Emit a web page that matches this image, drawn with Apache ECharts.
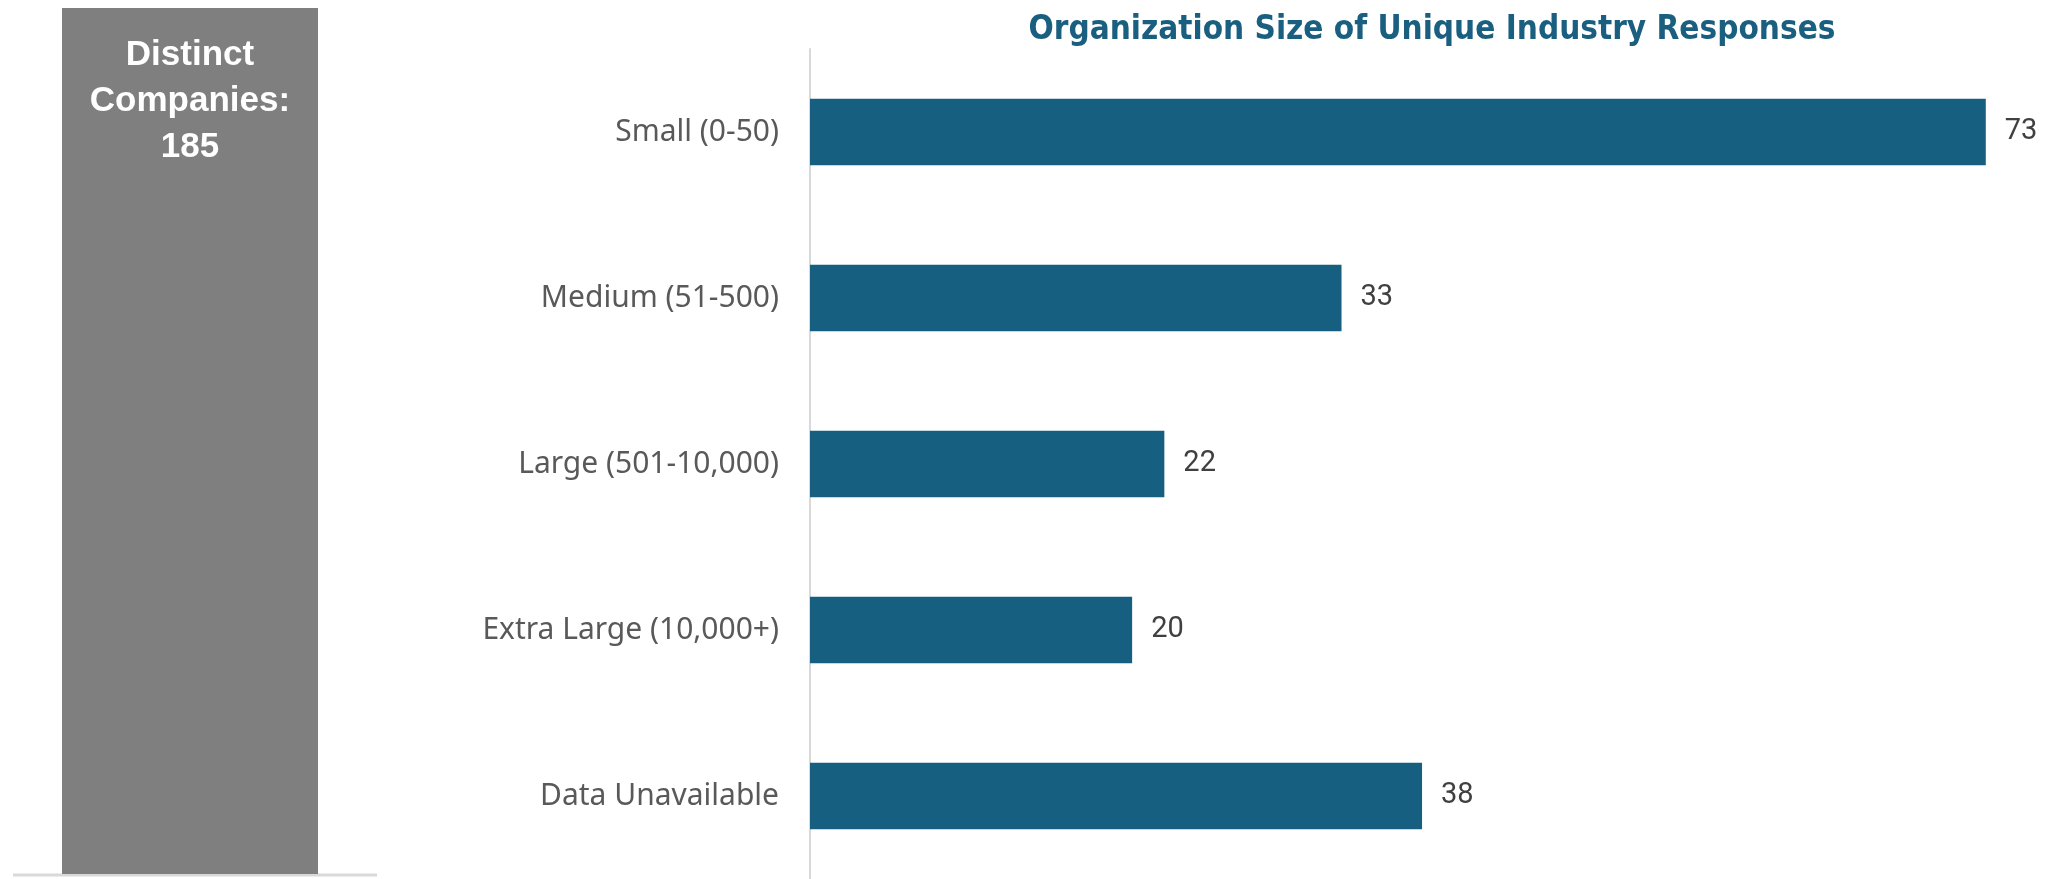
<!DOCTYPE html>
<html><head><meta charset="utf-8">
<script src="https://cdn.jsdelivr.net/npm/echarts@6/dist/echarts.min.js"></script>
<style>html,body{margin:0;padding:0;background:#fff}#c{width:2048px;height:879px}</style>
</head><body><div id="c"></div>
<script>
const titleText = 'Organization Size of Unique Industry Responses';
const categories = ['Small (0-50)', 'Medium (51-500)', 'Large (501-10,000)', 'Extra Large (10,000+)', 'Data Unavailable'];
const values = [73, 33, 22, 20, 38];
const totalLabel = 'Distinct Companies:';
const totalValue = 185;

const chart = echarts.init(document.getElementById('c'), null, {renderer: 'canvas'});
chart.setOption({
  animation: false,
  backgroundColor: '#ffffff',
  title: {
    text: titleText,
    left: 1427, top: 9, textAlign: 'center',
    textStyle: {fontFamily: 'DejaVu Sans Condensed', fontWeight: 'bold', fontSize: 33, color: '#1a5f80'}
  },
  grid: [
    {left: 810, top: 49, width: 1208, height: 833, containLabel: false},
    {left: 62, top: 8, width: 256, height: 866, containLabel: false}
  ],
  xAxis: [
    {gridIndex: 0, type: 'value', min: 0, max: 75, show: false},
    {gridIndex: 1, type: 'category', data: [totalLabel], show: false}
  ],
  yAxis: [
    {gridIndex: 0, type: 'category', data: categories, inverse: true,
     axisLine: {show: true, lineStyle: {color: '#d9d9d9', width: 2}},
     axisTick: {show: false},
     axisLabel: {fontFamily: 'Noto Sans', fontSize: 30, color: '#595959', margin: 31}},
    {gridIndex: 1, type: 'value', min: 0, max: totalValue, show: false}
  ],
  series: [
    {type: 'bar', xAxisIndex: 0, yAxisIndex: 0, data: values, barWidth: '40%',
     itemStyle: {color: '#175f80'},
     label: {show: true, position: 'right', distance: 19, fontFamily: 'Roboto', fontSize: 29, color: '#404040'}},
    {type: 'bar', xAxisIndex: 1, yAxisIndex: 1, data: [totalValue], barWidth: '100%',
     itemStyle: {color: '#7f7f7f'},
     label: {show: true, position: 'insideTop', distance: 24,
       formatter: p => p.name.replace(' ', '\n') + '\n' + p.value,
       fontFamily: 'Liberation Sans', fontWeight: 'bold', fontSize: 35, lineHeight: 46, color: '#ffffff', align: 'center'}}
  ],
  graphic: [
    {type: 'line', shape: {x1: 13, y1: 875, x2: 377, y2: 875}, style: {stroke: '#d9d9d9', lineWidth: 3}}
  ]
});
</script></body></html>
